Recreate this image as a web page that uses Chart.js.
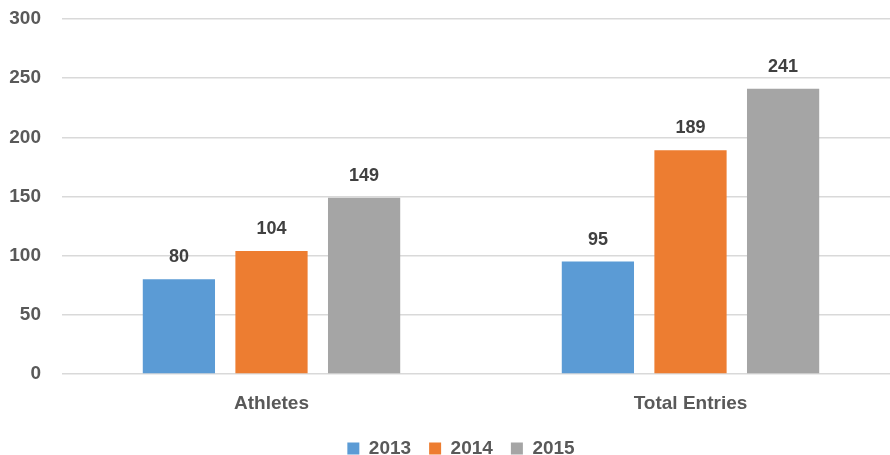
<!DOCTYPE html>
<html>
<head>
<meta charset="utf-8">
<script src="https://cdn.jsdelivr.net/npm/chart.js@4"></script>
<style>
  html, body { margin: 0; padding: 0; background: #fff; overflow: hidden; }
  #wrap { width: 922px; height: 468px; }
</style>
</head>
<body>
<div id="wrap"><canvas id="myChart"></canvas></div>
<script>
// chart data
const categories = ['Athletes', 'Total Entries'];
const years = ['2013', '2014', '2015'];
const values2013 = [80, 95];
const values2014 = [104, 189];
const values2015 = [149, 241];
const yTicks = [0, 50, 100, 150, 200, 250, 300];

const colors = ['#5B9BD5', '#ED7D31', '#A5A5A5'];
const font = { family: "'Liberation Sans', Arial, sans-serif", weight: 'bold', size: 19 };

// small plugin to draw the value above each bar
const valueLabels = {
  id: 'valueLabels',
  afterDatasetsDraw(chart) {
    const ctx = chart.ctx;
    ctx.save();
    ctx.font = "bold 18px 'Liberation Sans', Arial, sans-serif";
    ctx.fillStyle = '#404040';
    ctx.textAlign = 'center';
    ctx.textBaseline = 'middle';
    chart.data.datasets.forEach(function(ds, i) {
      chart.getDatasetMeta(i).data.forEach(function(bar, j) {
        ctx.fillText(ds.data[j], bar.x, bar.y - 22);
      });
    });
    ctx.restore();
  }
};

// centre the legend on the whole canvas rather than the padded area
const legendShift = {
  id: 'legendShift',
  afterLayout(chart) {
    chart.legend.left += 11;
    chart.legend.right += 11;
  }
};

const ctx = document.getElementById('myChart').getContext('2d');
new Chart(ctx, {
  type: 'bar',
  data: {
    labels: categories,
    datasets: [
      { label: years[0], data: values2013, backgroundColor: colors[0] },
      { label: years[1], data: values2014, backgroundColor: colors[1] },
      { label: years[2], data: values2015, backgroundColor: colors[2] }
    ]
  },
  options: {
    responsive: true,
    maintainAspectRatio: false,
    animation: false,
    categoryPercentage: 0.663,
    barPercentage: 0.78,
    layout: { padding: { top: 19, right: 22, left: 0, bottom: 0 } },
    plugins: {
      legend: {
        position: 'bottom',
        labels: {
          boxWidth: 12,
          boxHeight: 12,
          padding: 18,
          color: '#595959',
          font: font
        }
      },
      tooltip: { enabled: false }
    },
    scales: {
      x: {
        grid: { display: false, drawTicks: false },
        border: { display: false },
        ticks: { color: '#595959', font: font, padding: 18 },
        afterFit: function(scale) { scale.height = 47; }
      },
      y: {
        min: 0,
        max: 300,
        afterBuildTicks: function(scale) {
          scale.ticks = yTicks.map(function(v) { return { value: v }; });
        },
        afterFit: function(scale) {
          scale.width = 62;
          scale.paddingTop = 0;
          scale.paddingBottom = 0;
        },
        grid: { color: '#D9D9D9', lineWidth: 1.5, drawTicks: false },
        border: { display: false },
        ticks: { color: '#595959', font: font, padding: 21 }
      }
    }
  },
  plugins: [valueLabels, legendShift]
});
</script>
</body>
</html>
